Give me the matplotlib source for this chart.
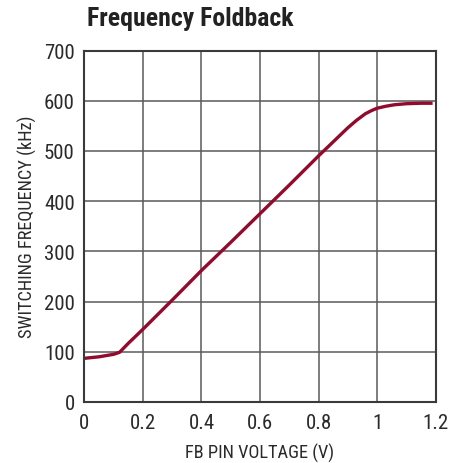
import matplotlib.pyplot as plt
from matplotlib import font_manager

fb_voltage = [0.0, 0.05, 0.10, 0.12, 0.15, 0.20, 0.30, 0.40, 0.50, 0.60, 0.70, 0.80,
              0.85, 0.90, 0.93, 0.96, 0.98, 1.00, 1.03, 1.06, 1.10, 1.15, 1.19]
frequency = [87, 90, 95, 99, 117, 145, 203, 262, 318, 375, 432, 490,
             518, 546, 561, 574, 580, 585, 589, 592, 594, 595, 595]

names = {f.name for f in font_manager.fontManager.ttflist}
candidates = ["Liberation Sans Narrow", "DejaVu Sans Condensed", "Roboto Condensed",
              "Open Sans Condensed", "Noto Sans Condensed", "Liberation Sans"]
narrow = next((c for c in candidates if c in names), "DejaVu Sans")
plt.rcParams["font.family"] = [narrow, "DejaVu Sans"]

fig = plt.figure(figsize=(4.66, 4.64), dpi=100)
ax = fig.add_axes([0.1813, 0.1315, 0.7533, 0.7575])

ax.plot(fb_voltage, frequency, color="#920a2d", linewidth=2.4, solid_capstyle="butt",
        solid_joinstyle="round")

ax.set_xlim(0, 1.2)
ax.set_ylim(0, 700)
ax.set_xticks([0, 0.2, 0.4, 0.6, 0.8, 1.0, 1.2])
ax.set_xticklabels(["0", "0.2", "0.4", "0.6", "0.8", "1", "1.2"])
ax.set_yticks(range(0, 701, 100))
ax.grid(True, color="#5a5a5a", linewidth=1.1)
ax.set_axisbelow(True)
for s in ax.spines.values():
    s.set_color("#3a3a3a")
    s.set_linewidth(1.5)
ax.tick_params(axis="x", length=0, labelsize=15, colors="#2a2a2a", pad=8)
ax.tick_params(axis="y", length=0, labelsize=15, colors="#2a2a2a", pad=7)

ax.set_xlabel("FB PIN VOLTAGE (V)", fontsize=13.2, color="#2a2a2a", labelpad=8)
ax.set_ylabel("SWITCHING FREQUENCY (kHz)", fontsize=13.2, color="#2a2a2a", labelpad=5)

fig.text(0.187, 0.960, "Frequency Foldback", fontsize=18.5, fontweight="bold",
         color="#222222", ha="left", va="center")

fig.savefig("out.png", dpi=100)
